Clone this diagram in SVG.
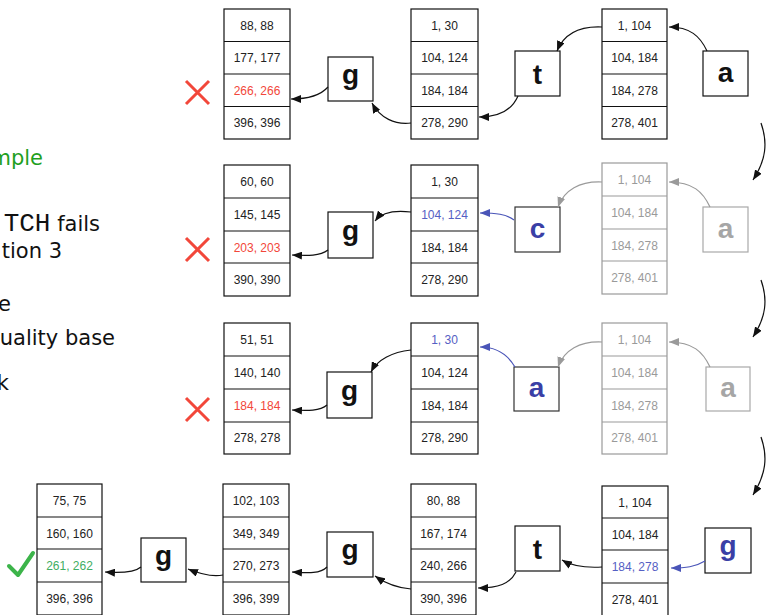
<svg xmlns="http://www.w3.org/2000/svg" width="767" height="615" viewBox="0 0 767 615">
<style>
.tb{fill:#fff;stroke:#111;stroke-width:1.2}
.tl{stroke:#111;stroke-width:1.2}
.gtb{fill:#fff;stroke:#9a9a9a;stroke-width:1.2}
.gtl{stroke:#9a9a9a;stroke-width:1.2}
.ct{font-family:"Liberation Sans",Arial,sans-serif;font-size:12px;fill:#222;text-anchor:middle}
.gct{font-family:"Liberation Sans",Arial,sans-serif;font-size:12px;fill:#9a9a9a;text-anchor:middle}
.red{fill:#f2473a}
.blu{fill:#5560c4}
.grn{fill:#3fae62}
.box{fill:#fff;stroke:#111;stroke-width:1.2}
.gbox{fill:#fff;stroke:#a8a8a8;stroke-width:1.2}
.bl{font-family:"Liberation Sans",Arial,sans-serif;font-weight:bold;font-size:28px;fill:#111;text-anchor:middle}
.bl.b{fill:#3a3fa6}
.bl.g{fill:#a6a6a6}
.c{fill:none;stroke:#111;stroke-width:1.2}
.cg{fill:none;stroke:#9a9a9a;stroke-width:1.2}
.cb{fill:none;stroke:#4a55b8;stroke-width:1.2}
.x{stroke:#f2473a;stroke-width:3;fill:none}
.side{font-family:"DejaVu Sans",sans-serif;font-size:21px;fill:#111;text-anchor:end}
</style>
<defs>
<marker id="ak" markerUnits="userSpaceOnUse" markerWidth="11" markerHeight="8" refX="10" refY="4" orient="auto"><path d="M0,0 L10,4 L0,8 z" fill="#111"/></marker>
<marker id="ag" markerUnits="userSpaceOnUse" markerWidth="11" markerHeight="8" refX="10" refY="4" orient="auto"><path d="M0,0 L10,4 L0,8 z" fill="#9a9a9a"/></marker>
<marker id="ab" markerUnits="userSpaceOnUse" markerWidth="11" markerHeight="8" refX="10" refY="4" orient="auto"><path d="M0,0 L10,4 L0,8 z" fill="#4a55b8"/></marker>
</defs>

<g id="side-text">
<text class="side" x="43" y="165" style="fill:#1f9f1f">mple</text>
<text class="side" x="100" y="231"><tspan font-family="'Liberation Mono',monospace" font-size="26px">TCH</tspan> fails</text>
<text class="side" x="62" y="258">tion 3</text>
<text class="side" x="11" y="311">e</text>
<text class="side" x="115" y="345">uality base</text>
<text class="side" x="9" y="390">k</text>
</g>

<!-- Row 1 -->
<g id="r1-left">
<rect class="tb" x="224" y="9" width="66" height="130"/>
<line class="tl" x1="224" y1="41.5" x2="290" y2="41.5"/><line class="tl" x1="224" y1="74" x2="290" y2="74"/><line class="tl" x1="224" y1="106.5" x2="290" y2="106.5"/>
<text class="ct" x="257" y="29.5">88, 88</text>
<text class="ct" x="257" y="62">177, 177</text>
<text class="ct red" x="257" y="94.5">266, 266</text>
<text class="ct" x="257" y="127">396, 396</text>
</g>
<g id="r1-x"><path class="x" d="M186,81 L209,104 M209,81 L186,104"/></g>
<g id="r1-g"><rect class="box" x="328" y="57" width="45" height="44"/><text class="bl" x="350.5" y="83.5">g</text></g>
<g id="r1-mid">
<rect class="tb" x="411" y="9" width="67" height="130"/>
<line class="tl" x1="411" y1="41.5" x2="478" y2="41.5"/><line class="tl" x1="411" y1="74" x2="478" y2="74"/><line class="tl" x1="411" y1="106.5" x2="478" y2="106.5"/>
<text class="ct" x="444.5" y="29.5">1, 30</text>
<text class="ct" x="444.5" y="62">104, 124</text>
<text class="ct" x="444.5" y="94.5">184, 184</text>
<text class="ct" x="444.5" y="127">278, 290</text>
</g>
<g id="r1-t"><rect class="box" x="515" y="51" width="45" height="45"/><text class="bl" x="537.5" y="83.5">t</text></g>
<g id="r1-right">
<rect class="tb" x="602" y="9" width="65" height="130"/>
<line class="tl" x1="602" y1="41.5" x2="667" y2="41.5"/><line class="tl" x1="602" y1="74" x2="667" y2="74"/><line class="tl" x1="602" y1="106.5" x2="667" y2="106.5"/>
<text class="ct" x="634.5" y="29.5">1, 104</text>
<text class="ct" x="634.5" y="62">104, 184</text>
<text class="ct" x="634.5" y="94.5">184, 278</text>
<text class="ct" x="634.5" y="127">278, 401</text>
</g>
<g id="r1-a"><rect class="box" x="703" y="51" width="45" height="45"/><text class="bl" x="725.5" y="82">a</text></g>

<!-- Row 2 -->
<g id="r2-left">
<rect class="tb" x="224" y="165" width="66" height="131"/>
<line class="tl" x1="224" y1="198" x2="290" y2="198"/><line class="tl" x1="224" y1="231" x2="290" y2="231"/><line class="tl" x1="224" y1="263" x2="290" y2="263"/>
<text class="ct" x="257" y="186">60, 60</text>
<text class="ct" x="257" y="219">145, 145</text>
<text class="ct red" x="257" y="251.5">203, 203</text>
<text class="ct" x="257" y="284">390, 390</text>
</g>
<g id="r2-x"><path class="x" d="M186,238 L209,261 M209,238 L186,261"/></g>
<g id="r2-g"><rect class="box" x="328" y="212" width="45" height="46"/><text class="bl" x="350.5" y="239.5">g</text></g>
<g id="r2-mid">
<rect class="tb" x="411" y="165" width="67" height="131"/>
<line class="tl" x1="411" y1="198" x2="478" y2="198"/><line class="tl" x1="411" y1="231" x2="478" y2="231"/><line class="tl" x1="411" y1="263" x2="478" y2="263"/>
<text class="ct" x="444.5" y="186">1, 30</text>
<text class="ct blu" x="444.5" y="219">104, 124</text>
<text class="ct" x="444.5" y="251.5">184, 184</text>
<text class="ct" x="444.5" y="284">278, 290</text>
</g>
<g id="r2-c"><rect class="box" x="515" y="207" width="45" height="45" style="stroke:#333"/><text class="bl b" x="537.5" y="237.5">c</text></g>
<g id="r2-right">
<rect class="gtb" x="602" y="163" width="65" height="131"/>
<line class="gtl" x1="602" y1="196" x2="667" y2="196"/><line class="gtl" x1="602" y1="229" x2="667" y2="229"/><line class="gtl" x1="602" y1="261" x2="667" y2="261"/>
<text class="gct" x="634.5" y="184">1, 104</text>
<text class="gct" x="634.5" y="217">104, 184</text>
<text class="gct" x="634.5" y="249.5">184, 278</text>
<text class="gct" x="634.5" y="282">278, 401</text>
</g>
<g id="r2-a"><rect class="gbox" x="703" y="207" width="45" height="45"/><text class="bl g" x="725.5" y="237.5">a</text></g>

<!-- Row 3 -->
<g id="r3-left">
<rect class="tb" x="224" y="323" width="66" height="131"/>
<line class="tl" x1="224" y1="356" x2="290" y2="356"/><line class="tl" x1="224" y1="389" x2="290" y2="389"/><line class="tl" x1="224" y1="422" x2="290" y2="422"/>
<text class="ct" x="257" y="344">51, 51</text>
<text class="ct" x="257" y="377">140, 140</text>
<text class="ct red" x="257" y="410">184, 184</text>
<text class="ct" x="257" y="442">278, 278</text>
</g>
<g id="r3-x"><path class="x" d="M186,398 L209,421 M209,398 L186,421"/></g>
<g id="r3-g"><rect class="box" x="327" y="372" width="45" height="46"/><text class="bl" x="349.5" y="399.5">g</text></g>
<g id="r3-mid">
<rect class="tb" x="411" y="323" width="67" height="131"/>
<line class="tl" x1="411" y1="356" x2="478" y2="356"/><line class="tl" x1="411" y1="389" x2="478" y2="389"/><line class="tl" x1="411" y1="422" x2="478" y2="422"/>
<text class="ct blu" x="444.5" y="344">1, 30</text>
<text class="ct" x="444.5" y="377">104, 124</text>
<text class="ct" x="444.5" y="410">184, 184</text>
<text class="ct" x="444.5" y="442">278, 290</text>
</g>
<g id="r3-a-blue"><rect class="box" x="514" y="367" width="45" height="44" style="stroke:#333"/><text class="bl b" x="536.5" y="397">a</text></g>
<g id="r3-right">
<rect class="gtb" x="602" y="323" width="65" height="131"/>
<line class="gtl" x1="602" y1="356" x2="667" y2="356"/><line class="gtl" x1="602" y1="389" x2="667" y2="389"/><line class="gtl" x1="602" y1="422" x2="667" y2="422"/>
<text class="gct" x="634.5" y="344">1, 104</text>
<text class="gct" x="634.5" y="377">104, 184</text>
<text class="gct" x="634.5" y="410">184, 278</text>
<text class="gct" x="634.5" y="442">278, 401</text>
</g>
<g id="r3-a"><rect class="gbox" x="706" y="367" width="44" height="44"/><text class="bl g" x="728" y="397">a</text></g>

<!-- Row 4 -->
<g id="r4-t1">
<rect class="tb" x="37" y="484" width="65" height="131"/>
<line class="tl" x1="37" y1="517" x2="102" y2="517"/><line class="tl" x1="37" y1="549" x2="102" y2="549"/><line class="tl" x1="37" y1="582" x2="102" y2="582"/>
<text class="ct" x="69.5" y="505">75, 75</text>
<text class="ct" x="69.5" y="537.5">160, 160</text>
<text class="ct grn" x="69.5" y="570">261, 262</text>
<text class="ct" x="69.5" y="602.5">396, 396</text>
</g>
<g id="r4-check"><path d="M9,566 L18,575 L33,553" fill="none" stroke="#3cb44a" stroke-width="4" stroke-linecap="round" stroke-linejoin="round"/></g>
<g id="r4-g1"><rect class="box" x="141" y="538" width="45" height="44"/><text class="bl" x="163.5" y="564.5">g</text></g>
<g id="r4-t2">
<rect class="tb" x="223" y="484" width="66" height="131"/>
<line class="tl" x1="223" y1="517" x2="289" y2="517"/><line class="tl" x1="223" y1="549" x2="289" y2="549"/><line class="tl" x1="223" y1="582" x2="289" y2="582"/>
<text class="ct" x="256" y="505">102, 103</text>
<text class="ct" x="256" y="537.5">349, 349</text>
<text class="ct" x="256" y="570">270, 273</text>
<text class="ct" x="256" y="602.5">396, 399</text>
</g>
<g id="r4-g2"><rect class="box" x="327" y="532" width="46" height="45"/><text class="bl" x="350" y="559">g</text></g>
<g id="r4-t3">
<rect class="tb" x="411" y="484" width="65" height="131"/>
<line class="tl" x1="411" y1="517" x2="476" y2="517"/><line class="tl" x1="411" y1="549" x2="476" y2="549"/><line class="tl" x1="411" y1="582" x2="476" y2="582"/>
<text class="ct" x="443.5" y="505">80, 88</text>
<text class="ct" x="443.5" y="537.5">167, 174</text>
<text class="ct" x="443.5" y="570">240, 266</text>
<text class="ct" x="443.5" y="602.5">390, 396</text>
</g>
<g id="r4-t"><rect class="box" x="515" y="526" width="45" height="45"/><text class="bl" x="537.5" y="558.5">t</text></g>
<g id="r4-t4">
<rect class="tb" x="602" y="486" width="66" height="131"/>
<line class="tl" x1="602" y1="518" x2="668" y2="518"/><line class="tl" x1="602" y1="550" x2="668" y2="550"/><line class="tl" x1="602" y1="583" x2="668" y2="583"/>
<text class="ct" x="635" y="507">1, 104</text>
<text class="ct" x="635" y="538.5">104, 184</text>
<text class="ct blu" x="635" y="571">184, 278</text>
<text class="ct" x="635" y="603.5">278, 401</text>
</g>
<g id="r4-g-blue"><rect class="box" x="705" y="528" width="46" height="45"/><text class="bl b" x="728" y="555">g</text></g>

<g id="connectors">
<path class="c" marker-end="url(#ak)" d="M707,51 C700,36 690,27 669,27"/>
<path class="c" marker-end="url(#ak)" d="M602,27 C580,26 564,34 557,51"/>
<path class="c" marker-end="url(#ak)" d="M518,96 C512,110 500,117 479,117"/>
<path class="c" marker-end="url(#ak)" d="M411,123 C395,125 380,118 372,103"/>
<path class="c" marker-end="url(#ak)" d="M328,87 C320,96 308,99 291,99"/>
<path class="cg" marker-end="url(#ag)" d="M710,207 C703,192 693,182 669,182"/>
<path class="cg" marker-end="url(#ag)" d="M602,182 C580,181 564,190 558,207"/>
<path class="cb" marker-end="url(#ab)" d="M514,220 C506,214 496,213 480,213"/>
<path class="c" marker-end="url(#ak)" d="M411,212 C395,210 382,212 375,221"/>
<path class="c" marker-end="url(#ak)" d="M328,250 C320,256 308,256 292,255"/>
<path class="cg" marker-end="url(#ag)" d="M710,367 C703,352 693,342 669,342"/>
<path class="cg" marker-end="url(#ag)" d="M602,342 C580,341 564,350 558,367"/>
<path class="cb" marker-end="url(#ab)" d="M515,367 C508,355 498,347 480,347"/>
<path class="c" marker-end="url(#ak)" d="M411,350 C392,352 377,360 371,372"/>
<path class="c" marker-end="url(#ak)" d="M327,405 C320,411 308,411 292,410"/>
<path class="cb" marker-end="url(#ab)" d="M705,561 C695,567 686,568 671,568"/>
<path class="c" marker-end="url(#ak)" d="M602,567 C585,568 572,566 562,560"/>
<path class="c" marker-end="url(#ak)" d="M516,572 C510,584 498,588 478,588"/>
<path class="c" marker-end="url(#ak)" d="M411,589 C398,588 385,583 375,576"/>
<path class="c" marker-end="url(#ak)" d="M327,567 C320,574 308,573 292,572"/>
<path class="c" marker-end="url(#ak)" d="M223,575 C212,577 200,574 188,569"/>
<path class="c" marker-end="url(#ak)" d="M141,567 C134,573 120,573 105,572"/>
<path class="c" marker-end="url(#ak)" d="M761,123 C768,143 766,160 753,180"/>
<path class="c" marker-end="url(#ak)" d="M761,280 C768,300 766,317 753,337"/>
<path class="c" marker-end="url(#ak)" d="M761,437 C768,457 766,474 753,495"/>
</g>
</svg>
